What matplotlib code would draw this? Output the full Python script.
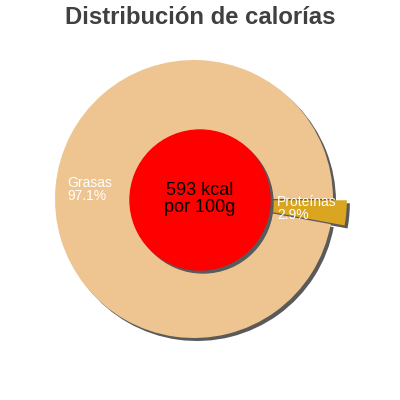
import numpy as np
import matplotlib
matplotlib.use("Agg")
import matplotlib.pyplot as plt
from matplotlib.patches import Circle

plt.rcParams['font.family'] = ['Liberation Sans', 'DejaVu Sans']

# data
labels = ['Grasas', 'Proteínas']
percents = [97.1, 2.9]
colors = ['#EEC591', '#DAA520']
explode = [0, 0.1]
kcal_text = '593 kcal\npor 100g'
title = 'Distribución de calorías'

# layout in pixel units (y up)
cx, cy, r = 194, 201, 139
inner_r = 70
inner_c = (200, 200)
shadow_dx, shadow_dy = 3, -3
shadow_col = '#5a5a5a'

fig = plt.figure(figsize=(4, 4), dpi=100)
ax = fig.add_axes([0, 0, 1, 1])

# pie explode is in data units, so scale by the radius
expl = [e * r for e in explode]

# shadow of the pie, then the pie itself
ax.pie(percents, explode=expl, colors=[shadow_col] * 2, startangle=0,
       center=(cx + shadow_dx, cy + shadow_dy), radius=r, frame=True)
wedges, _ = ax.pie(percents, explode=expl, colors=colors, startangle=0,
                   center=(cx, cy), radius=r, frame=True)
ax.set_xlim(0, 400)
ax.set_ylim(0, 400)
ax.set_aspect('equal')
ax.axis('off')

# slice labels
label_pos = [0.915, 0.6]
for w, lab, p, f in zip(wedges, labels, percents, label_pos):
    ang = np.deg2rad((w.theta1 + w.theta2) / 2)
    ax.text(cx + f * r * np.cos(ang), cy + f * r * np.sin(ang) - 2,
            '%s\n%.1f%%' % (lab, p), color='white', fontsize=10,
            ha='left', va='center', linespacing=0.9)

# center circle with shadow
ax.add_patch(Circle((inner_c[0] + shadow_dx, inner_c[1] + shadow_dy), inner_r,
                    color=shadow_col, zorder=3))
ax.add_patch(Circle(inner_c, inner_r, color='#FF0000', zorder=4))
ax.text(inner_c[0], inner_c[1] + 1, kcal_text, ha='center', va='center',
        fontsize=13, color='black', linespacing=1.0, zorder=5)

fig.text(0.5, 1 - 18 / 400, title, ha='center', va='center',
         fontsize=17.2, fontweight='bold', color='#404040')

fig.savefig('out.png', dpi=100, facecolor='white')
